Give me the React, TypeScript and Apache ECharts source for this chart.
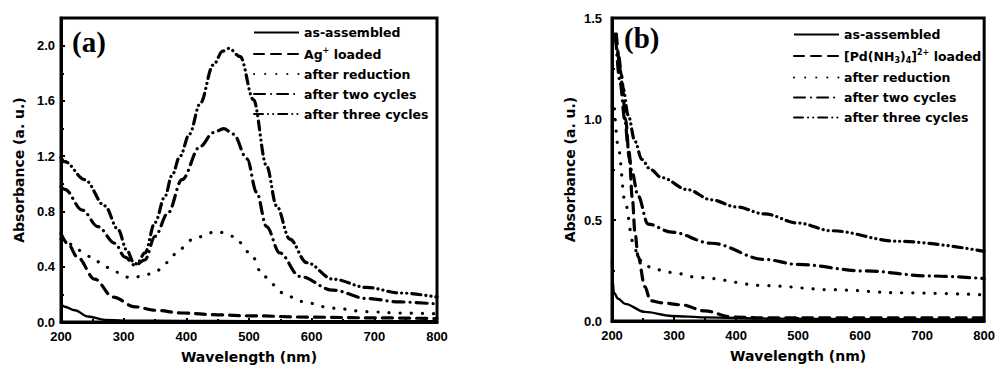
import React, { useEffect, useRef } from 'react';
import * as echarts from 'echarts';

// ---------- data: panel (a) ----------
const namesA = ['as-assembled', 'Ag+ loaded', 'after reduction', 'after two cycles', 'after three cycles'];
const a_asAssembled: [number, number][] = [[200, 0.13], [206, 0.11], [222, 0.085], [243, 0.04], [270, 0.015], [300, 0.01], [400, 0.008], [500, 0.006], [800, 0.005]];
const a_agLoaded: [number, number][] = [[200, 0.64], [212, 0.56], [226, 0.47], [254, 0.31], [283, 0.18], [318, 0.11], [350, 0.085], [393, 0.065], [450, 0.052], [500, 0.045], [600, 0.035], [700, 0.03], [800, 0.025]];
const a_reduction: [number, number][] = [[200, 0.6], [209, 0.58], [227, 0.52], [249, 0.47], [270, 0.4], [289, 0.36], [310, 0.32], [329, 0.33], [350, 0.36], [369, 0.43], [390, 0.53], [414, 0.61], [449, 0.655], [475, 0.62], [502, 0.5], [523, 0.33], [555, 0.21], [581, 0.15], [634, 0.1], [688, 0.075], [741, 0.065], [800, 0.06]];
const a_twoCycles: [number, number][] = [[200, 0.98], [206, 0.96], [234, 0.81], [259, 0.69], [286, 0.57], [302, 0.47], [318, 0.41], [334, 0.45], [350, 0.62], [371, 0.79], [393, 1.03], [422, 1.27], [443, 1.37], [460, 1.4], [475, 1.36], [497, 1.18], [512, 0.94], [528, 0.69], [549, 0.5], [581, 0.33], [634, 0.23], [688, 0.17], [741, 0.145], [800, 0.13]];
const a_threeCycles: [number, number][] = [[200, 1.19], [206, 1.16], [238, 1.03], [270, 0.84], [291, 0.67], [305, 0.52], [316, 0.43], [321, 0.42], [334, 0.5], [350, 0.72], [366, 0.91], [377, 1.06], [390, 1.2], [405, 1.36], [422, 1.58], [443, 1.86], [458, 1.96], [468, 1.98], [486, 1.92], [507, 1.61], [528, 1.13], [544, 0.84], [565, 0.6], [592, 0.43], [634, 0.31], [688, 0.25], [741, 0.21], [800, 0.18]];

// ---------- data: panel (b) ----------
const namesB = ['as-assembled', '[Pd(NH3)4]2+ loaded', 'after reduction', 'after two cycles', 'after three cycles'];
const b_asAssembled: [number, number][] = [[200, 0.3], [201, 0.2], [203, 0.14], [210, 0.11], [221, 0.085], [253, 0.045], [296, 0.025], [350, 0.018], [450, 0.012], [600, 0.009], [800, 0.007]];
const b_pdLoaded: [number, number][] = [[207, 1.42], [215, 1.22], [222, 1.0], [228, 0.8], [233, 0.6], [237, 0.44], [242, 0.32], [253, 0.17], [262, 0.1], [280, 0.09], [312, 0.08], [350, 0.05], [393, 0.02], [450, 0.015], [800, 0.015]];
const b_reduction: [number, number][] = [[204, 1.05], [210, 0.86], [221, 0.59], [234, 0.39], [242, 0.32], [250, 0.28], [270, 0.255], [296, 0.24], [340, 0.215], [447, 0.175], [554, 0.155], [661, 0.14], [800, 0.13]];
const b_twoCycles: [number, number][] = [[206, 1.4], [213, 1.18], [221, 0.99], [226, 0.86], [232, 0.74], [242, 0.62], [258, 0.48], [296, 0.44], [360, 0.385], [446, 0.305], [499, 0.28], [606, 0.248], [713, 0.223], [800, 0.21]];
const b_threeCycles: [number, number][] = [[205, 1.42], [210, 1.32], [218, 1.15], [226, 1.02], [237, 0.89], [248, 0.8], [262, 0.75], [280, 0.71], [322, 0.65], [360, 0.6], [400, 0.565], [446, 0.53], [500, 0.485], [553, 0.447], [660, 0.395], [800, 0.345]];

const dashStyles: (string | number[])[] = ['solid', [10, 7], [0.1, 11], [11, 6, 0.1, 6], [9, 5, 0.1, 5, 0.1, 5]];

const FONT = '"Liberation Sans", Arial, sans-serif';
const WIDE = '"DejaVu Sans", Verdana, sans-serif';

export default function App() {
  const ref = useRef<HTMLDivElement>(null);
  useEffect(() => {
    if (!ref.current) return;
    const chart = echarts.init(ref.current, undefined, { renderer: 'svg' });

    const mkSeries = (name: string, data: [number, number][], idx: number, k: number) => ({
      type: 'line',
      name,
      data,
      xAxisIndex: idx,
      yAxisIndex: idx,
      symbol: 'none',
      showSymbol: false,
      smooth: 0.35,
      smoothMonotone: 'x',
      lineStyle: { color: '#000', width: k === 0 ? 2.4 : 3.2, type: dashStyles[k], cap: k === 0 ? 'butt' : 'round' },
      itemStyle: { color: '#000' },
      emphasis: { disabled: true },
    });

    const seriesA = [a_asAssembled, a_agLoaded, a_reduction, a_twoCycles, a_threeCycles];
    const seriesB = [b_asAssembled, b_pdLoaded, b_reduction, b_twoCycles, b_threeCycles];

    const axisLabel = (margin: number) => ({ color: '#000', fontFamily: FONT, fontWeight: 'bold', fontSize: 13, margin });
    const nameStyle = { color: '#000', fontFamily: WIDE, fontWeight: 'bold', fontSize: 14 };
    const axisLine = { show: true, lineStyle: { color: '#000', width: 3 } };
    const axisTick = { show: true, inside: true, length: 4, lineStyle: { color: '#000', width: 2 } };
    const minorTick = { show: true, splitNumber: 2, length: 3, lineStyle: { color: '#000', width: 2 } };

    const xAxis = (gridIndex: number) => ({
      type: 'value', gridIndex, min: 200, max: 800, interval: 100,
      name: 'Wavelength (nm)', nameLocation: 'middle', nameGap: 28, nameTextStyle: nameStyle,
      axisLine, axisTick, minorTick, splitLine: { show: false },
      axisLabel: axisLabel(8),
    });

    const legendFormatter = (name: string) => {
      if (name === 'Ag+ loaded') return 'Ag{sup|+} loaded';
      if (name === '[Pd(NH3)4]2+ loaded') return '[Pd(NH{sub|3}){sub|4}]{sup|2+} loaded';
      return name;
    };
    const legendText = {
      color: '#000', fontFamily: WIDE, fontWeight: 'bold', fontSize: 12.5,
      rich: {
        sup: { fontFamily: WIDE, fontWeight: 'bold', fontSize: 8, color: '#000', verticalAlign: 'top', padding: [0, 0, 8, 0] },
        sub: { fontFamily: WIDE, fontWeight: 'bold', fontSize: 8, color: '#000', verticalAlign: 'bottom', padding: [6, 0, 0, 0] },
      },
    };
    const legendCommon = {
      orient: 'vertical', itemWidth: 45, itemHeight: 14, itemGap: 7,
      textStyle: legendText, formatter: legendFormatter, selectedMode: false,
      itemStyle: { opacity: 0, borderWidth: 0 },
    };

    chart.setOption({
      animation: false,
      backgroundColor: '#fff',
      grid: [
        { left: 61, top: 18, width: 376, height: 304, show: true, borderColor: '#000', borderWidth: 3, backgroundColor: 'transparent' },
        { left: 612, top: 18, width: 374, height: 303, show: true, borderColor: '#000', borderWidth: 3, backgroundColor: 'transparent' },
      ],
      xAxis: [xAxis(0), xAxis(1)],
      yAxis: [
        {
          type: 'value', gridIndex: 0, min: 0, max: 2.2, interval: 0.4,
          name: 'Absorbance (a. u.)', nameLocation: 'middle', nameGap: 35, nameTextStyle: nameStyle,
          axisLine, axisTick, minorTick, splitLine: { show: false },
          axisLabel: { ...axisLabel(6), showMaxLabel: false, formatter: (v: number) => v.toFixed(1) },
        },
        {
          type: 'value', gridIndex: 1, min: 0, max: 1.5, interval: 0.5,
          name: 'Absorbance (a. u.)', nameLocation: 'middle', nameGap: 35, nameTextStyle: nameStyle,
          axisLine, axisTick, minorTick, splitLine: { show: false },
          axisLabel: { ...axisLabel(10), formatter: (v: number) => v.toFixed(1) },
        },
      ],
      legend: [
        { ...legendCommon, data: namesA, left: 248, top: 21 },
        { ...legendCommon, data: namesB, left: 788, top: 23 },
      ],
      graphic: [
        { type: 'text', left: 72, top: 27, style: { text: '(a)', font: 'bold 29px "Liberation Serif", "Times New Roman", serif', fill: '#000' } },
        { type: 'text', left: 624, top: 23, style: { text: '(b)', font: 'bold 29px "Liberation Serif", "Times New Roman", serif', fill: '#000' } },
      ],
      series: [
        ...seriesA.map((d, k) => mkSeries(namesA[k], d, 0, k)),
        ...seriesB.map((d, k) => mkSeries(namesB[k], d, 1, k)),
      ],
    });
    return () => chart.dispose();
  }, []);
  return <div ref={ref} style={{ position: 'absolute', left: 0, top: 0, width: 998, height: 373 }} />;
}
